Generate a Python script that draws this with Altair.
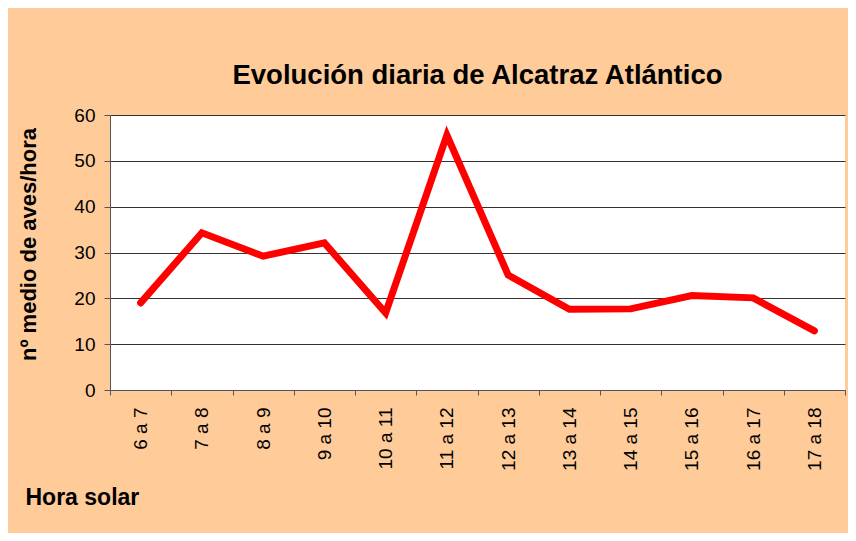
import altair as alt
import pandas as pd

horas = ["6 a 7", "7 a 8", "8 a 9", "9 a 10", "10 a 11", "11 a 12",
         "12 a 13", "13 a 14", "14 a 15", "15 a 16", "16 a 17", "17 a 18"]
aves = [19.0, 34.3, 29.2, 32.1, 16.8, 55.6, 25.1, 17.6, 17.7, 20.6, 20.1, 12.9]
y_ticks = [0, 10, 20, 30, 40, 50, 60]

df = pd.DataFrame({"hora": horas, "aves": aves})

FONT = "Liberation Sans"

line = alt.Chart(df).mark_line(
    color="#FF0000", strokeWidth=7, strokeCap="round", strokeJoin="miter"
).encode(
    x=alt.X("hora:N", sort=horas, bandPosition=0.5,
            scale=alt.Scale(type="band", paddingInner=0, paddingOuter=0),
            axis=alt.Axis(title="Hora solar", labelAngle=270, tickBand="extent",
                          grid=False, labelFontSize=19, labelFont=FONT,
                          labelColor="#000000", labelPadding=12,
                          tickSize=5, tickColor="#555555", domainColor="#555555",
                          titleFont=FONT, titleFontSize=23, titleFontWeight="bold",
                          titleColor="#000000", titleAnchor="start", titleAlign="left",
                          titleX=-85, titleY=114, titleBaseline="alphabetic")),
    y=alt.Y("aves:Q", scale=alt.Scale(domain=[0, 60], nice=False),
            axis=alt.Axis(title="nº medio de aves/hora", values=y_ticks,
                          grid=True, gridColor="#333333", gridWidth=1,
                          labelFontSize=19, labelFont=FONT, labelColor="#000000",
                          labelPadding=9, tickSize=6, tickColor="#555555",
                          domainColor="#555555",
                          titleFont=FONT, titleFontSize=22, titleFontWeight="bold",
                          titleColor="#000000", titleAngle=270, titleAlign="center",
                          titleBaseline="middle", titleX=-82, titleY=129)),
)

chart = line.properties(
    width=735,
    height=275,
    title=alt.TitleParams("Evolución diaria de Alcatraz Atlántico", font=FONT,
                          fontSize=27.5, fontWeight="bold", color="#000000",
                          anchor="middle", offset=17),
    background="#FFCC99",
    padding={"left": 102, "top": 107, "right": 3, "bottom": 143},
    autosize=alt.AutoSizeParams(type="none"),
).configure_view(fill="#FFFFFF", stroke=None)

chart.save("out.html", embed_options={"renderer": "svg", "actions": False})
